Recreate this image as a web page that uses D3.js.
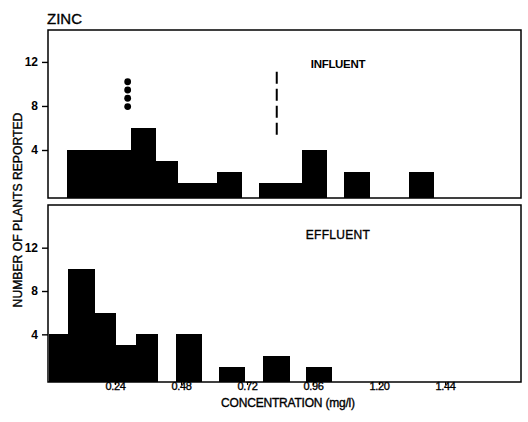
<!DOCTYPE html>
<html>
<head>
<meta charset="utf-8">
<script src="https://cdn.jsdelivr.net/npm/d3@7"></script>
<style>
  body { margin: 0; background: #fff; }
  svg { font-family: "Liberation Sans", Arial, sans-serif; }
  .heavy { stroke: #000; stroke-width: 0.35px; }
</style>
</head>
<body>
<svg id="chart" width="528" height="422"></svg>
<script>
// histogram bins, concentration in mg/l (edges), counts = number of plants
var influentEdges = [0.067, 0.15, 0.23, 0.297, 0.386, 0.468, 0.54, 0.61, 0.70, 0.763, 0.84, 0.919, 1.01, 1.074, 1.167, 1.307, 1.398];
var influentCounts = [4, 4, 4, 6, 3, 1, 1, 2, 0, 1, 1, 4, 0, 2, 0, 2];

var effluentEdges = [0, 0.068, 0.165, 0.243, 0.316, 0.395, 0.462, 0.553, 0.619, 0.71, 0.777, 0.874, 0.935, 1.028];
var effluentCounts = [4, 10, 6, 3, 4, 0, 4, 0, 1, 0, 2, 0, 1];

// dots drawn above the influent bars, and the dashed marker
var dotX = 0.286;
var dotY = [10.2, 9.45, 8.7, 7.94];
var markerX = 0.828;
var markerY = [5.36, 11.1];

var yTicks = [4, 8, 12];
var xTicks = [0.24, 0.48, 0.72, 0.96, 1.20, 1.44];

var svg = d3.select('#chart');

var x = d3.scaleLinear().domain([0, 1.716]).range([49, 521]);
var yTop = d3.scaleLinear().domain([-0.36, 14.9]).range([198, 30]);
var yBot = d3.scaleLinear().domain([-0.4, 15.94]).range([382, 205]);

var toBins = function(edges, counts){
    var out = [];
    for (var i = 0; i < counts.length; i++) {
        out.push({x0: edges[i], x1: edges[i + 1], n: counts[i]});
    }
    return out;
};

var drawPanel = function(bins, y, label, labelY, bold){
    var base = y.range()[0];
    var top = y.range()[1];

    svg.append('g')
        .attr('shape-rendering', 'crispEdges')
        .selectAll('rect')
        .data(bins.filter(function(d){ return d.n > 0; }))
        .enter()
        .append('rect')
        .attr('x', function(d){ return x(d.x0); })
        .attr('width', function(d){ return x(d.x1) - x(d.x0) + 0.5; })
        .attr('y', function(d){ return y(d.n); })
        .attr('height', function(d){ return base - y(d.n); })
        .attr('fill', '#000');

    svg.append('rect')
        .attr('x', 48)
        .attr('y', top)
        .attr('width', 521 - 48)
        .attr('height', base - top)
        .attr('fill', 'none')
        .attr('stroke', '#000')
        .attr('stroke-width', 1.5);

    var ax = svg.append('g')
        .attr('transform', 'translate(48,0)')
        .call(d3.axisLeft(y).tickValues(yTicks).tickSize(6).tickPadding(4).tickFormat(d3.format('d')));
    ax.select('.domain').remove();
    ax.selectAll('line').attr('stroke-width', 1.4);
    ax.selectAll('text')
        .attr('font-size', 12)
        .attr('font-weight', 'bold')
        .attr('font-family', '"Liberation Sans", Arial, sans-serif');

    svg.append('text')
        .attr('class', bold ? null : 'heavy')
        .attr('x', 338)
        .attr('y', labelY)
        .attr('text-anchor', 'middle')
        .attr('font-size', bold ? 11.5 : 12)
        .attr('font-weight', bold ? 'bold' : 'normal')
        .attr('letter-spacing', bold ? -0.3 : 0.3)
        .text(label);
};

drawPanel(toBins(influentEdges, influentCounts), yTop, 'INFLUENT', 67.5, true);
drawPanel(toBins(effluentEdges, effluentCounts), yBot, 'EFFLUENT', 239, false);

// dots
svg.append('g')
    .selectAll('circle')
    .data(dotY)
    .enter()
    .append('circle')
    .attr('cx', x(dotX))
    .attr('cy', function(d){ return yTop(d); })
    .attr('r', 3.4)
    .attr('fill', '#000');

// dashed marker
svg.append('line')
    .attr('x1', x(markerX))
    .attr('x2', x(markerX))
    .attr('y1', yTop(markerY[1]))
    .attr('y2', yTop(markerY[0]))
    .attr('stroke', '#000')
    .attr('stroke-width', 2)
    .attr('stroke-dasharray', '12,5');

// x axis under the effluent panel
var xa = svg.append('g')
    .attr('transform', 'translate(0,382)')
    .call(d3.axisBottom(x).tickValues(xTicks).tickSize(3).tickFormat(d3.format('.2f')));
xa.select('.domain').remove();
xa.selectAll('line').attr('stroke-width', 1.2);
xa.selectAll('text')
    .attr('class', 'heavy')
    .attr('y', 8)
    .attr('dy', null)
    .attr('font-size', 11)
    .attr('letter-spacing', -0.3)
    .attr('font-family', '"Liberation Sans", Arial, sans-serif');

svg.append('text')
    .attr('class', 'heavy')
    .attr('x', 288)
    .attr('y', 407)
    .attr('text-anchor', 'middle')
    .attr('font-size', 12)
    .attr('letter-spacing', -0.2)
    .text('CONCENTRATION (mg/l)');

svg.append('text')
    .attr('class', 'heavy')
    .attr('transform', 'translate(22,210) rotate(-90)')
    .attr('text-anchor', 'middle')
    .attr('font-size', 12.2)
    .text('NUMBER OF PLANTS REPORTED');

svg.append('text')
    .attr('class', 'heavy')
    .attr('x', 47)
    .attr('y', 24)
    .attr('font-size', 15)
    .text('ZINC');
</script>
</body>
</html>
